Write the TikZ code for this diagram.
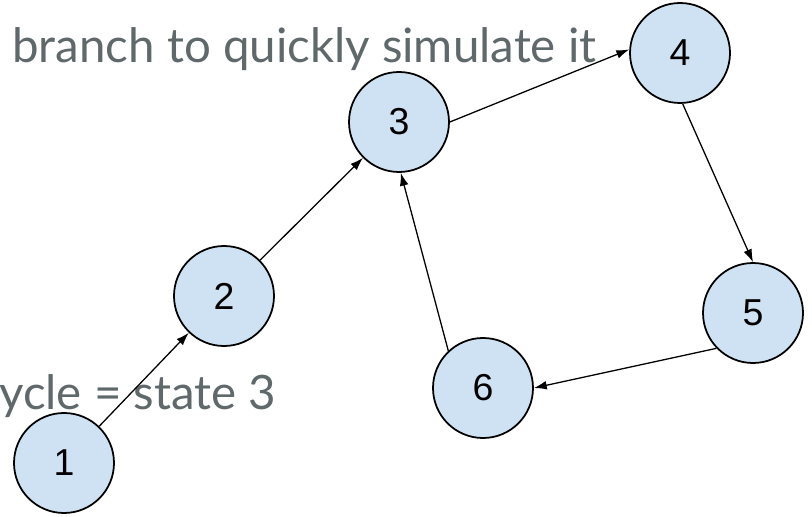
\documentclass[tikz,border=0pt]{standalone}
\usepackage{fontspec}
\usepackage{tikz}
\usetikzlibrary{arrows.meta}
\newfontfamily\latofont{Lato}
\newfontfamily\arialfont{Liberation Sans}
\definecolor{statefill}{RGB}{207,226,243}
\definecolor{notegray}{RGB}{95,104,107}

\tikzset{
  state/.style={circle,draw=black,line width=1.5pt,fill=statefill,minimum size=100*0.03cm,inner sep=0pt,
    font=\arialfont\fontsize{32}{32}\selectfont},
  trans/.style={line width=1.1pt,-{Latex[length=11pt,width=7.5pt]}},
  note/.style={anchor=base west,inner sep=0pt,text=notegray,font=\latofont\fontsize{40.5}{40.5}\selectfont}
}

\begin{document}
\begin{tikzpicture}[x=0.03cm,y=-0.03cm] % pixel grid, y going down
\useasboundingbox (0,0) rectangle (812,517);

\node[note] (top) at (12,63) {branch to quickly simulate it};
\node[note] (low) at (-1,410) {ycle = state 3};

\node[state] (s1) at (64,463) {1};
\node[state] (s2) at (224,296) {2};
\node[state] (s3) at (399,122) {3};
\node[state] (s4) at (680,53) {4};
\node[state] (s5) at (753,313) {5};
\node[state] (s6) at (483,388) {6};

\draw[trans] (s1) -- (s2);
\draw[trans] (s2) -- (s3);
\draw[trans] (s3.east) -- (s4.176);
\draw[trans] (s4.-87) -- (s5.north);
\draw[trans] (s5.224) -- (s6.east);
\draw[trans] (s6.133) -- (s3.272);
\end{tikzpicture}
\end{document}
